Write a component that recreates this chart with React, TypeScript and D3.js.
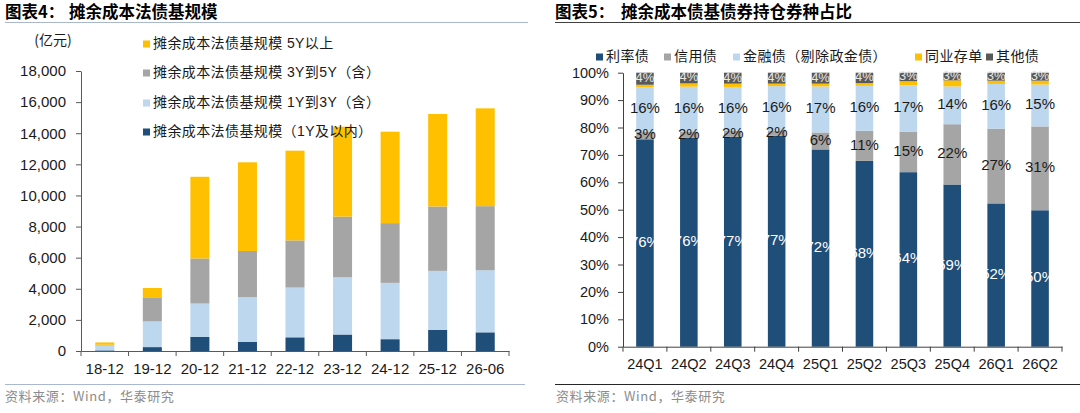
import { useEffect, useRef } from 'react';
import * as d3 from 'd3';

// left chart: 摊余成本法债基规模 (亿元)
const leftCats = ['18-12', '19-12', '20-12', '21-12', '22-12', '23-12', '24-12', '25-12', '26-06'];
const within1Y = [40, 250, 900, 580, 880, 1060, 760, 1350, 1200];
const y1to3 = [320, 1650, 2150, 2880, 3200, 3680, 3620, 3800, 3990];
const y3to5 = [40, 1550, 2900, 2970, 3030, 3900, 3840, 4140, 4120];
const over5Y = [150, 600, 5250, 5700, 5770, 5780, 5880, 5950, 6290];
const leftNames = [
  '摊余成本法债基规模（1Y及以内）',
  '摊余成本法债基规模 1Y到3Y（含）',
  '摊余成本法债基规模 3Y到5Y（含）',
  '摊余成本法债基规模 5Y以上',
];
const leftTicks = [0, 2000, 4000, 6000, 8000, 10000, 12000, 14000, 16000, 18000];

// right chart: 摊余成本债基债券持仓券种占比 (%)
const rightCats = ['24Q1', '24Q2', '24Q3', '24Q4', '25Q1', '25Q2', '25Q3', '25Q4', '26Q1', '26Q2'];
const rateBond = [75.7, 76.2, 76.6, 77.0, 72.0, 67.8, 63.7, 59.2, 52.3, 49.8];
const creditBond = [2.8, 2.3, 2.2, 1.8, 6.2, 11.0, 14.8, 22.0, 27.3, 30.6];
const finBond = [16.2, 16.4, 16.0, 16.3, 16.8, 16.4, 16.9, 13.8, 16.3, 15.3];
const ncd = [0.9, 1.2, 1.2, 0.9, 1.0, 1.0, 1.5, 2.2, 1.2, 1.4];
const otherBond = [4.4, 3.9, 4.0, 4.0, 4.0, 3.8, 3.1, 2.8, 2.9, 2.9];
const rightNames = ['利率债', '信用债', '金融债（剔除政金债）', '同业存单', '其他债'];
const rightTicks = [0, 10, 20, 30, 40, 50, 60, 70, 80, 90, 100];

const leftColours = ['#1F4E79', '#BDD7EE', '#A5A5A5', '#FFC000'];
const rightColours = ['#1F4E79', '#A5A5A5', '#BDD7EE', '#FFC000', '#595959'];
const labelColours = ['#ffffff', '#1a1a1a', '#1a1a1a', null, '#e6e6e6'];

const FONT = '"Liberation Sans", "Noto Sans CJK SC", sans-serif';
const CJK = '"Noto Sans CJK SC", "Liberation Sans", sans-serif';

const App = () => {
  const svgRef = useRef(null);

  useEffect(() => {
    document.body.style.margin = '0';
    const svg = d3.select(svgRef.current);
    svg.selectAll('*').remove();

    // titles and rules
    const title = (x: number, lead: string, rest: string, restX: number, lineX1: number, lineX2: number, lineCol: string) => {
      const t = svg.append('text').attr('y', 18).style('font-family', CJK).style('font-weight', 700)
        .style('font-size', '16.5px').attr('fill', '#000');
      t.append('tspan').attr('x', x).text(lead);
      t.append('tspan').attr('x', restX).text(rest);
      svg.append('line').attr('x1', lineX1).attr('x2', lineX2).attr('y1', 22.5).attr('y2', 22.5)
        .attr('stroke', lineCol).attr('stroke-width', 1.2);
    };
    title(5, '图表4：', '摊余成本法债基规模', 69, 5, 528, '#A9B8CE');
    title(555, '图表5：', '摊余成本债基债券持仓券种占比', 621, 555, 1080, '#404040');

    const source = (x: number, x1: number, x2: number, col: string) => {
      svg.append('line').attr('x1', x1).attr('x2', x2).attr('y1', 384.5).attr('y2', 384.5)
        .attr('stroke', col).attr('stroke-width', 1);
      svg.append('text').attr('x', x).attr('y', 397).attr('dominant-baseline', 'middle')
        .style('font-family', CJK).style('font-size', '13px').attr('fill', '#8c8c8c')
        .style('letter-spacing', '0.6px').text('资料来源：Wind，华泰研究');
    };
    source(5, 5, 525, '#A9B8CE');
    source(556, 555, 1080, '#262626');

    // ---------- left chart ----------
    const lx = d3.scaleBand().domain(leftCats).range([81, 509]).paddingInner(0.6).paddingOuter(0.3);
    const ly = d3.scaleLinear().domain([0, 18000]).range([351, 71]);
    const leftRows = leftCats.map((c, i) => ({ cat: c, k0: within1Y[i], k1: y1to3[i], k2: y3to5[i], k3: over5Y[i] }));
    const leftStack = d3.stack().keys(['k0', 'k1', 'k2', 'k3'])(leftRows as any);

    const left = svg.append('g');
    leftStack.forEach((layer, li) => {
      left.append('g').attr('fill', leftColours[li])
        .selectAll('rect').data(layer).enter().append('rect')
        .attr('x', (d: any) => lx(d.data.cat))
        .attr('width', lx.bandwidth())
        .attr('y', (d) => ly(d[1]))
        .attr('height', (d) => ly(d[0]) - ly(d[1]));
    });

    left.append('g').attr('transform', 'translate(81,0)')
      .call(d3.axisLeft(ly).tickValues(leftTicks).tickFormat(d3.format(',')).tickSize(5).tickSizeOuter(0).tickPadding(10))
      .call((g) => g.select('.domain').attr('stroke', '#595959'))
      .call((g) => g.selectAll('.tick line').attr('stroke', '#595959'))
      .call((g) => g.selectAll('text').style('font-family', FONT).style('font-size', '15px').attr('fill', '#1a1a1a'));

    const lAxis = left.append('g').attr('transform', 'translate(0,351)');
    lAxis.call(d3.axisBottom(lx).tickSize(0).tickPadding(12))
      .call((g) => g.select('.domain').attr('stroke', '#595959'))
      .call((g) => g.selectAll('text').style('font-family', FONT).style('font-size', '15px').attr('fill', '#1a1a1a'));
    lAxis.selectAll('line.bound').data(d3.range(leftCats.length + 1)).enter().append('line')
      .attr('class', 'bound')
      .attr('x1', (i) => 81 + i * lx.step()).attr('x2', (i) => 81 + i * lx.step())
      .attr('y1', 0).attr('y2', 5).attr('stroke', '#595959');

    svg.append('text').attr('x', 53).attr('y', 41).attr('text-anchor', 'middle').attr('dominant-baseline', 'middle')
      .style('font-family', CJK).style('font-size', '14px').attr('fill', '#1a1a1a').text('(亿元)');

    const legendRowsY = [44, 73, 103, 132];
    [3, 2, 1, 0].forEach((k, r) => {
      const g = svg.append('g').attr('transform', `translate(143,${legendRowsY[r]})`);
      g.append('rect').attr('x', 0).attr('y', -3.5).attr('width', 7).attr('height', 7).attr('fill', leftColours[k]);
      g.append('text').attr('x', 10).attr('dominant-baseline', 'middle')
        .style('font-family', FONT).style('font-size', '14px').style('letter-spacing', '0.4px')
        .attr('fill', '#1a1a1a').text(leftNames[k]);
    });

    // ---------- right chart ----------
    const rx = d3.scaleBand().domain(rightCats).range([623, 1062]).paddingInner(0.6).paddingOuter(0.3);
    const ry = d3.scaleLinear().domain([0, 100]).range([346.7, 72.7]);
    const rightRows = rightCats.map((c, i) => ({
      cat: c, k0: rateBond[i], k1: creditBond[i], k2: finBond[i], k3: ncd[i], k4: otherBond[i],
    }));
    const rightStack = d3.stack().keys(['k0', 'k1', 'k2', 'k3', 'k4'])(rightRows as any);
    const right = svg.append('g');
    rightStack.forEach((layer, li) => {
      right.append('g').attr('fill', rightColours[li])
        .selectAll('rect').data(layer).enter().append('rect')
        .attr('x', (d: any) => rx(d.data.cat))
        .attr('width', rx.bandwidth())
        .attr('y', (d) => ry(d[1]))
        .attr('height', (d) => ry(d[0]) - ry(d[1]));
    });
    rightStack.forEach((layer, li) => {
      if (!labelColours[li]) return;
      right.append('g').selectAll('text').data(layer).enter().append('text')
        .attr('x', (d: any) => (rx(d.data.cat) as number) + rx.bandwidth() / 2)
        .attr('y', (d) => ry((d[0] + d[1]) / 2))
        .attr('text-anchor', 'middle').attr('dominant-baseline', 'middle')
        .style('font-family', FONT).style('font-size', li === 4 ? '13px' : '15px')
        .attr('fill', labelColours[li] as string)
        .text((d) => `${Math.round(d[1] - d[0])}%`);
    });

    right.append('g').attr('transform', 'translate(623,0)')
      .call(d3.axisLeft(ry).tickValues(rightTicks).tickFormat((d) => `${d}%`).tickSize(5).tickSizeOuter(0).tickPadding(9))
      .call((g) => g.select('.domain').attr('stroke', '#404040'))
      .call((g) => g.selectAll('.tick line').attr('stroke', '#404040'))
      .call((g) => g.selectAll('text').style('font-family', FONT).style('font-size', '14.5px').attr('fill', '#1a1a1a'));

    const rAxis = right.append('g').attr('transform', 'translate(0,346.7)');
    rAxis.call(d3.axisBottom(rx).tickSize(0).tickPadding(12))
      .call((g) => g.select('.domain').attr('stroke', '#404040'))
      .call((g) => g.selectAll('text').style('font-family', FONT).style('font-size', '14.5px').attr('fill', '#1a1a1a'));
    rAxis.selectAll('line.bound').data(d3.range(rightCats.length + 1)).enter().append('line')
      .attr('class', 'bound')
      .attr('x1', (i) => 623 + i * rx.step()).attr('x2', (i) => 623 + i * rx.step())
      .attr('y1', 0).attr('y2', 5).attr('stroke', '#404040');

    const rLegendX = [596, 664, 733, 915, 986];
    rightNames.forEach((name, i) => {
      const g = svg.append('g').attr('transform', `translate(${rLegendX[i]},57)`);
      g.append('rect').attr('x', 0).attr('y', -3.5).attr('width', 7).attr('height', 7).attr('fill', rightColours[i]);
      g.append('text').attr('x', 10).attr('dominant-baseline', 'middle')
        .style('font-family', CJK).style('font-size', '14px').style('letter-spacing', '0.4px')
        .attr('fill', '#1a1a1a').text(name);
    });
  }, []);

  return <svg ref={svgRef} width={1080} height={413} style={{ display: 'block', background: '#fff' }} />;
};

export default App;
